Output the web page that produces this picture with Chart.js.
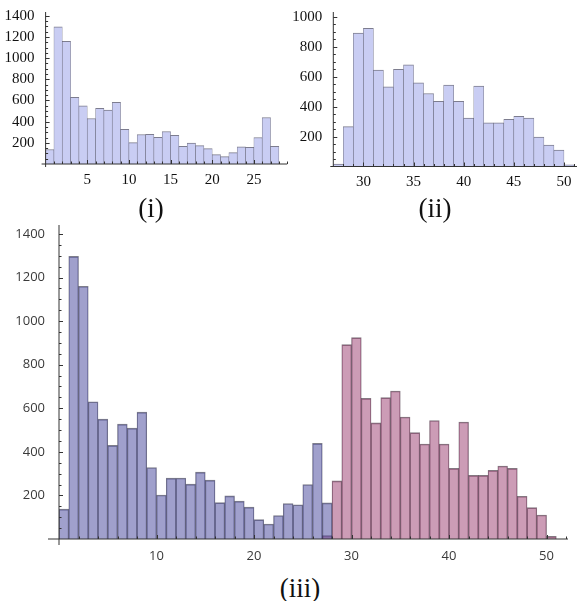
<!DOCTYPE html>
<html>
<head>
<meta charset="utf-8">
<script src="https://cdn.jsdelivr.net/npm/chart.js@4/dist/chart.umd.min.js"></script>
<style>
  html, body { margin: 0; padding: 0; background: #fff; width: 578px; height: 601px; overflow: hidden; }
  canvas { position: absolute; }
  .cap { position: absolute; font-family: "Liberation Serif", "Times New Roman", serif; font-size: 27px; line-height: 1; color: #111; transform: translateX(-50%); white-space: nowrap; }
</style>
</head>
<body>
<canvas id="histLow" width="290" height="200" style="left:0;top:0"></canvas>
<canvas id="histHigh" width="288" height="200" style="left:290px;top:0"></canvas>
<canvas id="histBoth" width="578" height="360" style="left:0;top:210px"></canvas>
<div class="cap" style="left:151px;top:195px">(i)</div>
<div class="cap" style="left:435px;top:195px">(ii)</div>
<div class="cap" style="left:300px;top:575px">(iii)</div>
<script>
// Bin centres (unit-width bins) for the lower and upper groups
const binCentresLow = [0.5, 1.5, 2.5, 3.5, 4.5, 5.5, 6.5, 7.5, 8.5, 9.5, 10.5, 11.5, 12.5, 13.5,
  14.5, 15.5, 16.5, 17.5, 18.5, 19.5, 20.5, 21.5, 22.5, 23.5, 24.5, 25.5, 26.5, 27.5];
const binCentresHigh = [27.5, 28.5, 29.5, 30.5, 31.5, 32.5, 33.5, 34.5, 35.5, 36.5, 37.5, 38.5,
  39.5, 40.5, 41.5, 42.5, 43.5, 44.5, 45.5, 46.5, 47.5, 48.5, 49.5, 50.5];

// Counts per bin
const countsLow = [137, 1297, 1160, 630, 550, 430, 527, 509, 582, 328, 202, 279, 280, 252,
  307, 270, 167, 198, 174, 146, 89, 69, 108, 163, 157, 250, 439, 166];
const countsHigh = [16, 267, 892, 924, 645, 533, 649, 679, 560, 488, 436, 544,
  436, 324, 537, 292, 292, 315, 335, 324, 196, 144, 110, 12];

// Tick labels
const xTicksLow = [5, 10, 15, 20, 25];
const xTicksHigh = [30, 35, 40, 45, 50];
const xTicksBoth = [10, 20, 30, 40, 50];
const yTicksLow = [200, 400, 600, 800, 1000, 1200, 1400];
const yTicksHigh = [200, 400, 600, 800, 1000];
const yTicksBoth = [200, 400, 600, 800, 1000, 1200, 1400];

// Axis lines with inward major/minor tick marks, crossing at (originX, 0)
const insideAxes = {
  id: 'insideAxes',
  afterDatasetsDraw(chart, args, o) {
    const { ctx, chartArea: ca } = chart;
    const xs = chart.scales.x, ys = chart.scales.y;
    const y0 = ys.getPixelForValue(0);
    const x0 = xs.getPixelForValue(o.originX);
    ctx.save();
    ctx.strokeStyle = o.color;
    ctx.lineWidth = 1;
    ctx.beginPath();
    ctx.moveTo(ca.left - o.extendLeft, y0); ctx.lineTo(ca.right, y0);
    ctx.moveTo(x0, ca.top); ctx.lineTo(x0, y0 + o.extendDown);
    // x-axis ticks
    for (let v = Math.ceil(xs.min / o.xMinor) * o.xMinor; v <= xs.max; v += o.xMinor) {
      if (Math.abs(v - o.originX) < 1e-9) continue;
      const major = Math.abs(v / o.xMajor - Math.round(v / o.xMajor)) < 1e-9;
      const px = Math.round(xs.getPixelForValue(v)) + 0.5;
      ctx.moveTo(px, y0); ctx.lineTo(px, y0 - (major ? o.majorLen : o.minorLen));
    }
    // y-axis ticks
    for (let v = o.yMinor; v <= ys.max; v += o.yMinor) {
      const major = Math.abs(v / o.yMajor - Math.round(v / o.yMajor)) < 1e-9;
      const py = Math.round(ys.getPixelForValue(v)) + 0.5;
      ctx.moveTo(x0, py); ctx.lineTo(x0 + (major ? o.majorLen : o.minorLen), py);
    }
    ctx.stroke();
    ctx.restore();
  }
};

const plainNumber = v => String(v);

function histogram(id, sets, o) {
  return new Chart(document.getElementById(id), {
    type: 'bar',
    data: {
      datasets: sets.map(s => ({
        data: s.centres.map((c, i) => ({ x: c, y: s.counts[i] })),
        backgroundColor: s.fill,
        borderColor: s.edge,
        borderWidth: { left: 0.6, right: 0.6, top: 1, bottom: 0 },
        borderSkipped: false,
        barPercentage: 1,
        categoryPercentage: 1,
        grouped: false
      }))
    },
    options: {
      responsive: false,
      animation: false,
      events: [],
      layout: { padding: { left: 0, top: o.padTop, right: o.padRight, bottom: 0 } },
      plugins: {
        legend: { display: false },
        tooltip: { enabled: false },
        insideAxes: o.axes
      },
      scales: {
        x: {
          type: 'linear', min: o.xMin, max: o.xMax, offset: false,
          grid: { display: false, offset: false }, border: { display: false },
          afterBuildTicks: s => { s.ticks = o.xTicks.map(v => ({ value: v })); },
          afterFit: s => { s.height = o.xHeight; },
          ticks: { autoSkip: false, maxRotation: 0, padding: o.xPad, font: o.font, color: o.color, callback: plainNumber }
        },
        y: {
          type: 'linear', min: 0, max: o.yMax,
          grid: { display: false }, border: { display: false },
          afterBuildTicks: s => { s.ticks = o.yTicks.map(v => ({ value: v })); },
          afterFit: s => { s.width = o.yWidth; },
          ticks: { autoSkip: false, padding: o.yPad, font: o.font, color: o.color, callback: plainNumber }
        }
      }
    },
    plugins: [insideAxes]
  });
}

const serifTicks = { family: '"Liberation Serif", "Times New Roman", serif', size: 15 };
const sansTicks = { family: '"Open Sans", "Noto Sans", sans-serif', size: 13 };
const lightFill = 'rgb(201, 205, 243)';
const lightEdge = 'rgba(70, 70, 95, 0.7)';

histogram('histLow', [
  { centres: binCentresLow, counts: countsLow, fill: lightFill, edge: lightEdge }
], {
  xMin: 0, xMax: 29, yMax: 1436, xTicks: xTicksLow, yTicks: yTicksLow,
  padTop: 12, padRight: 2.8, yWidth: 45.6, xHeight: 36, xPad: -1, yPad: 3,
  font: serifTicks, color: '#111',
  axes: { originX: 0, xMinor: 1, xMajor: 5, yMinor: 50, yMajor: 200, majorLen: 4, minorLen: 2.5,
          extendLeft: 4, extendDown: 3, color: '#333' }
});

histogram('histHigh', [
  { centres: binCentresHigh, counts: countsHigh, fill: lightFill, edge: lightEdge }
], {
  xMin: 27, xMax: 51.3, yMax: 1033, xTicks: xTicksHigh, yTicks: yTicksHigh,
  padTop: 12, padRight: 1, yWidth: 43.3, xHeight: 33.5, xPad: -1, yPad: 3,
  font: serifTicks, color: '#111',
  axes: { originX: 27, xMinor: 1, xMajor: 5, yMinor: 50, yMajor: 200, majorLen: 4, minorLen: 2.5,
          extendLeft: 3, extendDown: 0, color: '#333' }
});

histogram('histBoth', [
  { centres: binCentresLow, counts: countsLow, fill: 'rgba(65, 65, 153, 0.5)', edge: 'rgba(40, 40, 60, 0.6)' },
  { centres: binCentresHigh, counts: countsHigh, fill: 'rgba(153, 57, 109, 0.5)', edge: 'rgba(50, 30, 45, 0.6)' }
], {
  xMin: 0, xMax: 52.2, yMax: 1441, xTicks: xTicksBoth, yTicks: yTicksBoth,
  padTop: 15, padRight: 10, yWidth: 59, xHeight: 31, xPad: 1, yPad: 6,
  font: sansTicks, color: '#3a3a3a',
  axes: { originX: 0, xMinor: 2, xMajor: 10, yMinor: 50, yMajor: 200, majorLen: 4, minorLen: 2.5,
          extendLeft: 11, extendDown: 6, color: '#333' }
});
</script>
</body>
</html>
